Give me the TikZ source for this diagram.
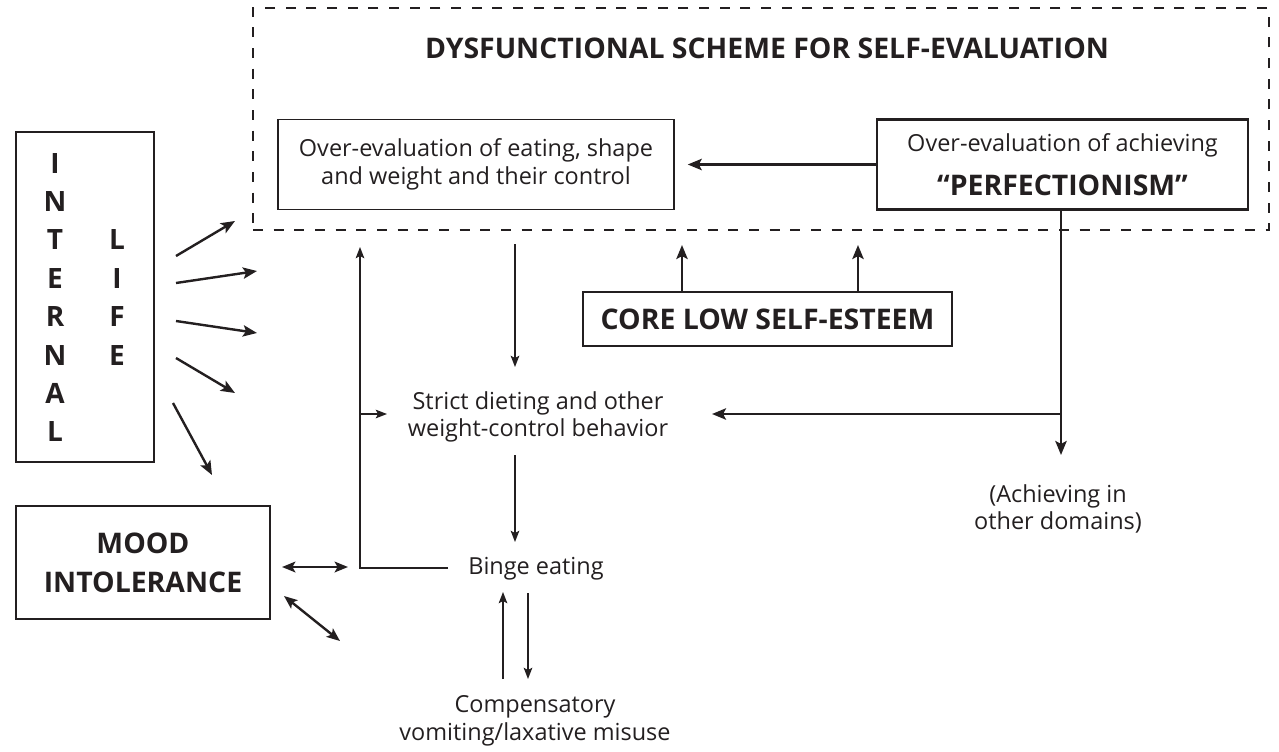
\documentclass[tikz,border=0pt]{standalone}
\usepackage{fontspec}
\setmainfont{Open Sans}
\usetikzlibrary{arrows.meta}
\definecolor{ink}{HTML}{231F20}
\tikzset{
  txt/.style={text=ink, align=center, inner sep=0pt, font=\fontsize{17.6}{20.8}\selectfont},
  heading/.style={text=ink, align=center, inner sep=0pt, font=\fontsize{21.3}{29.25}\selectfont\bfseries},
  lightbox/.style={draw=ink, line width=1.1pt},
  heavybox/.style={draw=ink, line width=2.2pt},
  schemebox/.style={draw=ink, line width=2.1pt, dash pattern=on 7.5pt off 8pt, inner sep=0pt},
  lightarrow/.style={draw=ink, line width=1pt, -{Stealth[length=8.5pt,width=6.5pt,inset=1.8pt]}},
  heavyarrow/.style={draw=ink, line width=1.8pt, -{Stealth[length=10.5pt,width=8.5pt,inset=2.2pt]}},
  twoway/.style={draw=ink, line width=1.8pt, {Stealth[length=10pt,width=8pt,inset=2.2pt]}-{Stealth[length=10pt,width=8pt,inset=2.2pt]}}
}
\begin{document}
\begin{tikzpicture}[x=0.75pt,y=-0.75pt]
\useasboundingbox (0,0) rectangle (1279,751);
% dysfunctional scheme
\node [schemebox, minimum width=762pt, minimum height=166.5pt] (scheme) at (761,119) {};
\node [heading] (title) at (767,48.5) {DYSFUNCTIONAL SCHEME FOR SELF-EVALUATION};
\node [txt, lightbox, minimum width=297pt, minimum height=67.5pt] (eating) at (476,164.5)
  {Over-evaluation of eating, shape\\and weight and their control};
\node [txt, heavybox, minimum width=278.25pt, minimum height=67.5pt] (perf) at (1062.5,164.5)
  {Over-evaluation of achieving\\[12pt]{\fontsize{21.3}{26}\selectfont\bfseries “PERFECTIONISM”}};
% core low self-esteem
\node [heading, heavybox, minimum width=276.75pt, minimum height=40.5pt] (core) at (767.5,319) {CORE LOW SELF-ESTEEM};
% internal life
\node [heavybox, minimum width=103.5pt, minimum height=247.5pt] (internal) at (85,297) {};
\node [heading, font=\fontsize{21}{28.8}\selectfont\bfseries] (internalword) at (55,297.5) {I\\N\\T\\E\\R\\N\\A\\L};
\node [heading, font=\fontsize{21}{28.8}\selectfont\bfseries] (lifeword) at (117,297.5) {L\\I\\F\\E};
% mood intolerance
\node [heading, heavybox, minimum width=190.5pt, minimum height=84.75pt] (mood) at (143,562.5) {MOOD\\INTOLERANCE};
% behaviours
\node [txt] (diet) at (538,417) {Strict dieting and other\\weight-control behavior};
\node [txt] (binge) at (536,569) {Binge eating};
\node [txt] (purge) at (535,721) {Compensatory\\vomiting/laxative misuse};
\node [txt] (domains) at (1058,509) {(Achieving in\\other domains)};

% free ends
\coordinate (esteemleft) at (682,245);
\coordinate (esteemright) at (858,245);
\coordinate (fork) at (1061,414);
\coordinate (dietright) at (712,414);
\coordinate (eatfoot) at (515,244);
\coordinate (diettop) at (515,367);
\coordinate (dietfoot) at (515,455);
\coordinate (bingetop) at (515,542);
\coordinate (bingeleft) at (448,568);
\coordinate (looptop) at (360,247);
\coordinate (loopmid) at (360,414);
\coordinate (dietleft) at (387,414);
\coordinate (purgeup) at (503,679);
\coordinate (bingeup) at (503,592);
\coordinate (bingedown) at (528,593);
\coordinate (purgedown) at (528,679);

% perfectionism
\draw [heavyarrow, shorten >=9.75pt] (perf.west) -- (eating.east);
\draw [heavyarrow] (perf.south -| fork) -- (fork |- 0,455);
\draw [heavyarrow] (fork) -- (dietright);
% self-esteem feeds the scheme
\draw [heavyarrow] (esteemleft |- core.north) -- (esteemleft);
\draw [heavyarrow] (esteemright |- core.north) -- (esteemright);
% eating chain
\draw [lightarrow] (eatfoot) -- (diettop);
\draw [lightarrow] (dietfoot) -- (bingetop);
\draw [lightarrow] (bingeleft) -| (looptop);
\draw [lightarrow] (loopmid) -- (dietleft);
\draw [lightarrow] (purgeup) -- (bingeup);
\draw [lightarrow] (bingedown) -- (purgedown);
% mood
\draw [twoway] (282,567) coordinate (moodright) -- (348,567) coordinate (loopfoot);
\draw [twoway] (284,596) coordinate (moodcorner) -- (340,641) coordinate (purgeside);
% internal life
\draw [heavyarrow] (176,256) coordinate (ila) -- (235,221) coordinate (ilb);
\draw [heavyarrow] (176,283) coordinate (ilc) -- (257,271) coordinate (ild);
\draw [heavyarrow] (176,321) coordinate (ile) -- (257,333) coordinate (ilf);
\draw [heavyarrow] (176,358) coordinate (ilg) -- (235,393) coordinate (ilh);
\draw [heavyarrow] (173,403) coordinate (ili) -- (212,475) coordinate (ilj);
\end{tikzpicture}
\end{document}
